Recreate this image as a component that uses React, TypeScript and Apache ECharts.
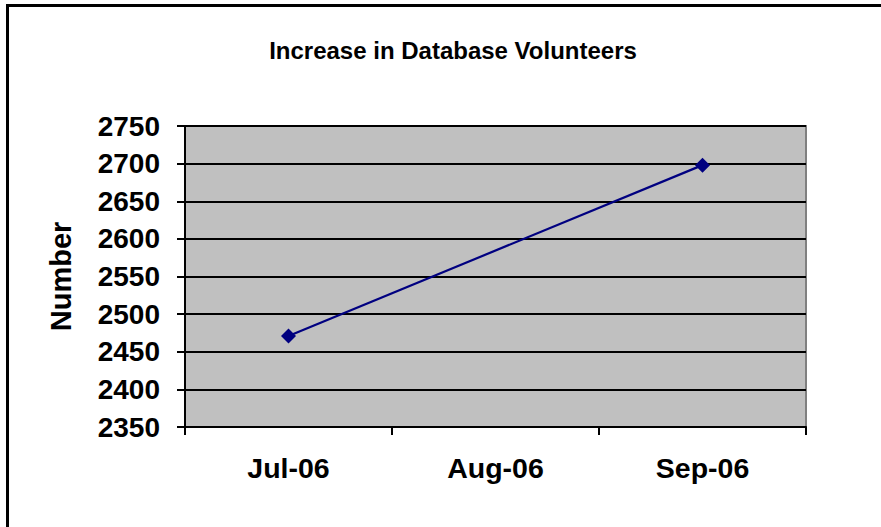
import React, { useEffect, useRef } from "react";
import * as echarts from "echarts";

const categories = ["Jul-06", "Aug-06", "Sep-06"];
const volunteers: (number | null)[] = [2471, null, 2698];
const yMin = 2350;
const yMax = 2750;
const yStep = 50;
const titleText = "Increase in Database Volunteers";
const yAxisName = "Number";

const FONT = "'Liberation Sans', Arial, sans-serif";

export default function App() {
  const ref = useRef<HTMLDivElement>(null);
  useEffect(() => {
    if (!ref.current) return;
    const chart = echarts.init(ref.current, undefined, { renderer: "svg" });
    chart.setOption({
      animation: false,
      backgroundColor: "#ffffff",
      title: {
        text: titleText,
        left: 448,
        top: 33,
        textAlign: "center",
        textStyle: { fontFamily: FONT, fontWeight: "bold", fontSize: 24, color: "#000" },
      },
      grid: {
        left: 185,
        top: 126,
        right: 75,
        bottom: 100,
        show: true,
        backgroundColor: "#c0c0c0",
        borderColor: "#808080",
        borderWidth: 2,
      },
      xAxis: {
        type: "category",
        data: categories,
        boundaryGap: true,
        axisLine: { show: true, lineStyle: { color: "#000", width: 2 } },
        axisTick: { show: true, length: 8, lineStyle: { color: "#000", width: 2 } },
        axisLabel: { margin: 26, fontFamily: FONT, fontWeight: "bold", fontSize: 28.5, color: "#000" },
        splitLine: { show: false },
      },
      yAxis: {
        type: "value",
        min: yMin,
        max: yMax,
        interval: yStep,
        name: yAxisName,
        nameLocation: "middle",
        nameRotate: 90,
        nameGap: 110,
        nameTextStyle: { fontFamily: FONT, fontWeight: "bold", fontSize: 29, color: "#000" },
        axisLine: { show: true, lineStyle: { color: "#000", width: 2 } },
        axisTick: { show: true, length: 8, lineStyle: { color: "#000", width: 2 } },
        axisLabel: {
          margin: 25,
          fontFamily: FONT,
          fontWeight: "bold",
          fontSize: 28,
          color: "#000",
          formatter: (v: number) => String(v),
        },
        splitLine: { show: true, lineStyle: { color: "#000", width: 2 } },
      },
      series: [
        {
          type: "line",
          data: volunteers,
          connectNulls: true,
          symbol: "diamond",
          symbolSize: 15,
          showSymbol: true,
          lineStyle: { color: "#000080", width: 2.2 },
          itemStyle: { color: "#000080" },
        },
      ],
      graphic: [
        { type: "line", shape: { x1: 6, y1: 5.5, x2: 881, y2: 5.5 }, style: { stroke: "#000", lineWidth: 3 } },
        { type: "line", shape: { x1: 7.5, y1: 4, x2: 7.5, y2: 527 }, style: { stroke: "#000", lineWidth: 3 } },
      ],
    });
    return () => chart.dispose();
  }, []);
  return <div ref={ref} style={{ position: "fixed", left: 0, top: 0, width: 881, height: 527 }} />;
}
